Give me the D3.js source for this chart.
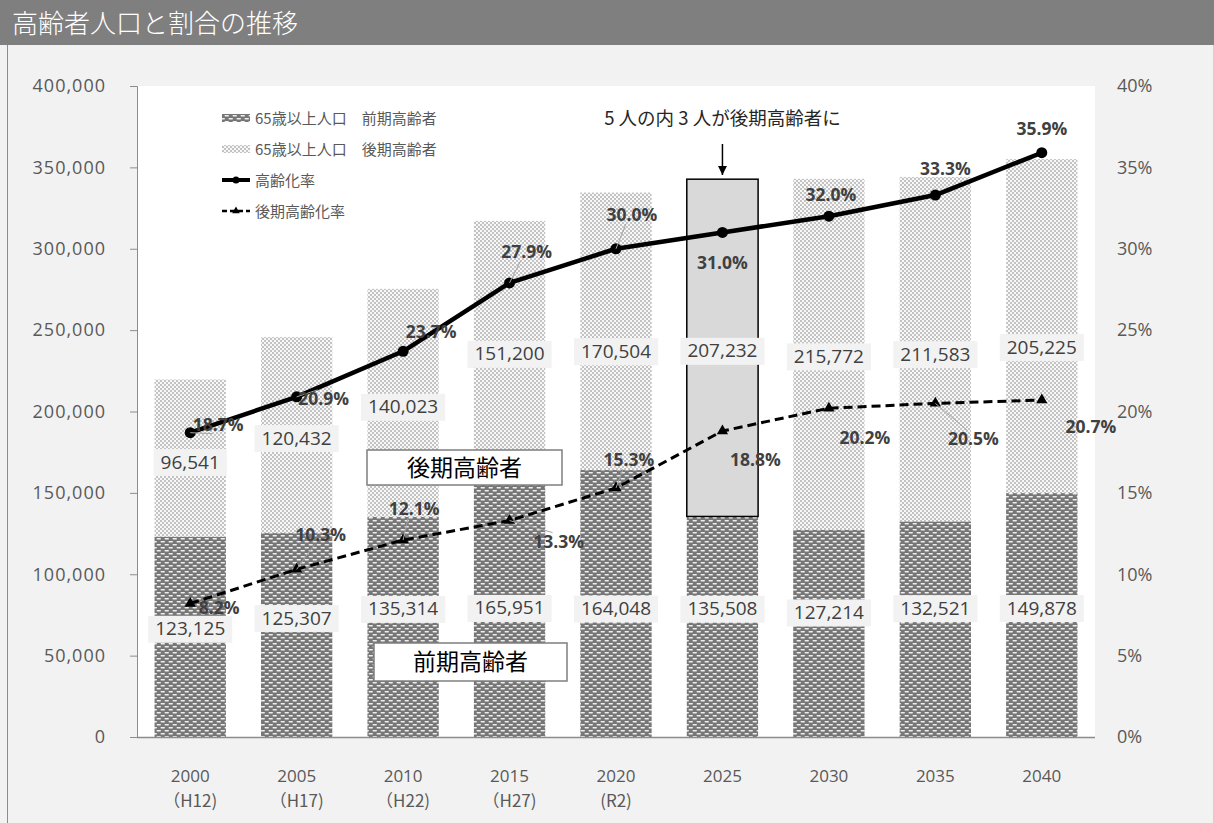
<!doctype html>
<html lang="ja">
<head>
<meta charset="utf-8">
<title>高齢者人口と割合の推移</title>
<script src="https://d3js.org/d3.v7.min.js"></script>
<style>
  body { margin: 0; background: #f2f2f2; }
  svg { display: block; font-family: "Noto Sans CJK JP", sans-serif; }
</style>
</head>
<body>
<div id="chart"></div>
<script>
// ---- data ----
const years = ['2000', '2005', '2010', '2015', '2020', '2025', '2030', '2035', '2040'];
const eras = ['（H12)', '（H17)', '（H22)', '（H27)', '(R2)', '', '', '', ''];
const earlyElderly = [123125, 125307, 135314, 165951, 164048, 135508, 127214, 132521, 149878];
const lateElderly = [96541, 120432, 140023, 151200, 170504, 207232, 215772, 211583, 205225];
const agingRate = [18.7, 20.9, 23.7, 27.9, 30.0, 31.0, 32.0, 33.3, 35.9];
const lateAgingRate = [8.2, 10.3, 12.1, 13.3, 15.3, 18.8, 20.2, 20.5, 20.7];
const leftTicks = [0, 50000, 100000, 150000, 200000, 250000, 300000, 350000, 400000];
const rightTicks = [0, 5, 10, 15, 20, 25, 30, 35, 40];

// ---- layout (label nudges, px) ----
const earlyLabelDy = [-8, -17, -18, 6, 5, -18, -21, -21, -7];
const lateLabelDy = [4, 3, 4, 10, 20, 3, 2, 5, 21];
const rateLabelOff = [[28, -8], [27, 2], [28, -19], [17, -31], [16, -34], [0, 31], [2, -21], [10, -26], [0, -24]];
const lateLabelOff = [[29, 4], [24, -34], [11, -31], [49, 21], [13, -28], [33, 29], [36, 30], [38, 36], [49, 27]];
const rateLeader = [true, true, false, true, true, false, false, false, false];
const lateLeader = [false, true, true, true, true, false, false, true, false];

const W = 1214, H = 823;
const plot = {left: 137, right: 1095, top: 86, bottom: 737};
const numFont = '"Open Sans", sans-serif';

const svg = d3.select('#chart').append('svg')
  .attr('width', W).attr('height', H);

// background, title bar, frame
svg.append('rect').attr('width', W).attr('height', H).attr('fill', '#f2f2f2');
svg.append('rect').attr('width', W).attr('height', 45).attr('fill', '#7f7f7f');
svg.append('text').attr('x', 12).attr('y', 33).attr('font-weight', 300)
  .attr('fill', '#fff').attr('font-size', 26).text('高齢者人口と割合の推移');
svg.append('line').attr('x1', 7.5).attr('x2', 7.5).attr('y1', 45).attr('y2', H)
  .attr('stroke', '#8c8c8c');
svg.append('line').attr('x1', W - 0.5).attr('x2', W - 0.5).attr('y1', 45).attr('y2', H)
  .attr('stroke', '#d0d0d0');

// patterns
const defs = svg.append('defs');
const pEarly = defs.append('pattern').attr('id', 'early')
  .attr('patternUnits', 'userSpaceOnUse').attr('width', 8).attr('height', 6);
pEarly.append('rect').attr('width', 8).attr('height', 6).attr('fill', '#777');
pEarly.append('rect').attr('x', 0.5).attr('y', 1).attr('width', 4.5).attr('height', 1.6).attr('rx', 0.8).attr('fill', '#eee');
pEarly.append('rect').attr('x', 4.5).attr('y', 4).attr('width', 4.5).attr('height', 1.6).attr('rx', 0.8).attr('fill', '#eee');
pEarly.append('rect').attr('x', -3.5).attr('y', 4).attr('width', 4.5).attr('height', 1.6).attr('rx', 0.8).attr('fill', '#eee');

const pLate = defs.append('pattern').attr('id', 'late')
  .attr('patternUnits', 'userSpaceOnUse').attr('width', 4).attr('height', 4);
pLate.append('rect').attr('width', 4).attr('height', 4).attr('fill', '#f8f8f8');
pLate.append('circle').attr('cx', 1).attr('cy', 1).attr('r', 0.9).attr('fill', '#aaa');
pLate.append('circle').attr('cx', 3).attr('cy', 3).attr('r', 0.9).attr('fill', '#aaa');

// plot area
svg.append('rect').attr('x', plot.left).attr('y', plot.top)
  .attr('width', plot.right - plot.left).attr('height', plot.bottom - plot.top)
  .attr('fill', '#fff');

// scales
const x = d3.scaleBand().domain(years).range([plot.left, plot.right])
  .paddingInner(0.33).paddingOuter(0.165);
const y = d3.scaleLinear().domain([0, 400000]).range([plot.bottom, plot.top]);
const yR = d3.scaleLinear().domain([0, 40]).range([plot.bottom, plot.top]);

// stacked bars
const rows = years.map((yr, i) => ({year: yr, early: earlyElderly[i], late: lateElderly[i]}));
const stack = d3.stack().keys(['early', 'late'])(rows);

svg.append('g').selectAll('g')
  .data(stack).join('g')
  .attr('fill', d => d.key === 'early' ? 'url(#early)' : 'url(#late)')
  .selectAll('rect')
  .data(d => d.map(s => Object.assign(s, {key: d.key}))).join('rect')
  .attr('x', d => x(d.data.year))
  .attr('width', x.bandwidth())
  .attr('y', d => y(d[1]))
  .attr('height', d => y(d[0]) - y(d[1]))
  .attr('fill', d => (d.key === 'late' && d.data.year === '2025') ? '#d9d9d9' : null)
  .attr('stroke', d => (d.key === 'late' && d.data.year === '2025') ? '#000' : null)
  .attr('stroke-width', 1.5);

// axes
const axL = svg.append('g').attr('transform', `translate(${plot.left},0)`)
  .call(d3.axisLeft(y).tickValues(leftTicks).tickSize(7).tickPadding(24)
    .tickFormat(d3.format(',')));
axL.select('.domain').attr('stroke', '#8c8c8c');
axL.selectAll('.tick line').attr('stroke', '#8c8c8c');
axL.selectAll('text').attr('font-size', 18).attr('fill', '#595959')
  .attr('font-family', numFont).attr('letter-spacing', 1);

const axR = svg.append('g').attr('transform', `translate(${plot.right},0)`)
  .call(d3.axisRight(yR).tickValues(rightTicks).tickSize(0).tickPadding(22)
    .tickFormat(d => d + '%'));
axR.select('.domain').remove();
axR.selectAll('text').attr('font-size', 18).attr('fill', '#595959')
  .attr('font-family', numFont);

svg.append('line').attr('x1', plot.left).attr('x2', plot.right)
  .attr('y1', plot.bottom + 0.5).attr('y2', plot.bottom + 0.5)
  .attr('stroke', '#8c8c8c').attr('stroke-width', 1.5);

const xl = svg.append('g').selectAll('g').data(years).join('g')
  .attr('transform', d => `translate(${x(d) + x.bandwidth() / 2},0)`)
  .attr('font-size', 17).attr('fill', '#595959').attr('text-anchor', 'middle')
  .attr('font-family', numFont);
xl.append('text').attr('y', 782).text(d => d);
xl.append('text').attr('y', 807).attr('font-family', '"Noto Sans CJK JP", sans-serif')
  .attr('font-size', 17).text((d, i) => eras[i]);

// value labels on bars
function boxLabel(g, cx, cy, txt) {
  const t = g.append('text').attr('x', cx).attr('y', cy + 6.5)
    .attr('text-anchor', 'middle').attr('font-size', 19).attr('fill', '#404040')
    .attr('font-family', numFont).text(txt);
  const bb = t.node().getBBox();
  g.insert('rect', 'text').attr('x', bb.x - 7).attr('y', cy - 13)
    .attr('width', bb.width + 14).attr('height', 27).attr('fill', '#f2f2f2');
}
const fmt = d3.format(',');
rows.forEach((r, i) => {
  const cx = x(r.year) + x.bandwidth() / 2;
  boxLabel(svg.append('g'), cx, y(r.early / 2) + earlyLabelDy[i], fmt(r.early));
  boxLabel(svg.append('g'), cx, y(r.early + r.late / 2) + lateLabelDy[i], fmt(r.late));
});

// lines
const cxOf = (d, i) => x(years[i]) + x.bandwidth() / 2;
const rateLine = d3.line().x(cxOf).y(d => yR(d));

svg.append('path').datum(lateAgingRate).attr('d', rateLine)
  .attr('fill', 'none').attr('stroke', '#000').attr('stroke-width', 3)
  .attr('stroke-dasharray', '9,5');
const tri = d3.symbol().type(d3.symbolTriangle).size(55);
svg.append('g').selectAll('path').data(lateAgingRate).join('path')
  .attr('d', tri).attr('fill', '#000')
  .attr('transform', (d, i) => `translate(${cxOf(d, i)},${yR(d)})`);

svg.append('path').datum(agingRate).attr('d', rateLine)
  .attr('fill', 'none').attr('stroke', '#000').attr('stroke-width', 4.5)
  .attr('stroke-linejoin', 'round');
svg.append('g').selectAll('circle').data(agingRate).join('circle')
  .attr('cx', cxOf).attr('cy', d => yR(d)).attr('r', 5.5).attr('fill', '#000');

// percent labels
function pctLabels(vals, offs, leaders) {
  const g = svg.append('g');
  vals.forEach((v, i) => {
    const px = cxOf(v, i), py = yR(v);
    const lx = px + offs[i][0], ly = py + offs[i][1];
    if (leaders[i]) {
      const ex = lx - Math.sign(offs[i][0]) * 6, ey = ly - Math.sign(offs[i][1]) * 9;
      g.append('line').attr('x1', px).attr('y1', py).attr('x2', ex).attr('y2', ey)
        .attr('stroke', '#a6a6a6').attr('stroke-width', 1);
    }
    g.append('text').attr('x', lx).attr('y', ly + 6).attr('text-anchor', 'middle')
      .attr('font-size', 17.5).attr('font-weight', 'bold').attr('fill', '#404040')
      .attr('font-family', numFont)
      .text(v.toFixed(1) + '%');
  });
}
pctLabels(agingRate, rateLabelOff, rateLeader);
pctLabels(lateAgingRate, lateLabelOff, lateLeader);

// annotation boxes
function noteBox(x0, y0, w, h, txt) {
  svg.append('rect').attr('x', x0).attr('y', y0).attr('width', w).attr('height', h)
    .attr('fill', '#fff').attr('stroke', '#7f7f7f').attr('stroke-width', 1.5);
  svg.append('text').attr('x', x0 + w / 2).attr('y', y0 + h / 2 + 8)
    .attr('text-anchor', 'middle').attr('font-size', 23).attr('fill', '#000').text(txt);
}
noteBox(367, 450, 195, 35, '後期高齢者');
noteBox(374, 643, 193, 38, '前期高齢者');

// callout for 2025
const c25 = x('2025') + x.bandwidth() / 2;
svg.append('text').attr('x', c25).attr('y', 125).attr('text-anchor', 'middle')
  .attr('font-size', 18.5).attr('fill', '#262626').text('5 人の内 3 人が後期高齢者に');
defs.append('marker').attr('id', 'arrow').attr('viewBox', '0 0 10 10')
  .attr('refX', 10).attr('refY', 5).attr('markerWidth', 9).attr('markerHeight', 9)
  .attr('markerUnits', 'userSpaceOnUse').attr('orient', 'auto')
  .append('path').attr('d', 'M0,0L10,5L0,10Z').attr('fill', '#000');
svg.append('line').attr('x1', c25).attr('x2', c25).attr('y1', 144).attr('y2', 175)
  .attr('stroke', '#000').attr('stroke-width', 1.5).attr('marker-end', 'url(#arrow)');

// legend
const legend = svg.append('g').attr('font-size', 15).attr('fill', '#595959');
const legItems = [
  {label: '65歳以上人口　前期高齢者', type: 'early'},
  {label: '65歳以上人口　後期高齢者', type: 'late'},
  {label: '高齢化率', type: 'rate'},
  {label: '後期高齢化率', type: 'lateRate'}
];
legItems.forEach((it, i) => {
  const cy = 118 + i * 31;
  if (it.type === 'early' || it.type === 'late') {
    legend.append('rect').attr('x', 222).attr('y', cy - 4).attr('width', 28).attr('height', 8)
      .attr('fill', `url(#${it.type})`);
  } else if (it.type === 'rate') {
    legend.append('line').attr('x1', 222).attr('x2', 250).attr('y1', cy).attr('y2', cy)
      .attr('stroke', '#000').attr('stroke-width', 4);
    legend.append('circle').attr('cx', 236).attr('cy', cy).attr('r', 3.5).attr('fill', '#000');
  } else {
    legend.append('line').attr('x1', 222).attr('x2', 250).attr('y1', cy).attr('y2', cy)
      .attr('stroke', '#000').attr('stroke-width', 2.5).attr('stroke-dasharray', '5,3');
    legend.append('path').attr('d', d3.symbol().type(d3.symbolTriangle).size(25))
      .attr('transform', `translate(236,${cy})`).attr('fill', '#000');
  }
  legend.append('text').attr('x', 255).attr('y', cy + 5.5).text(it.label);
});
</script>
</body>
</html>
